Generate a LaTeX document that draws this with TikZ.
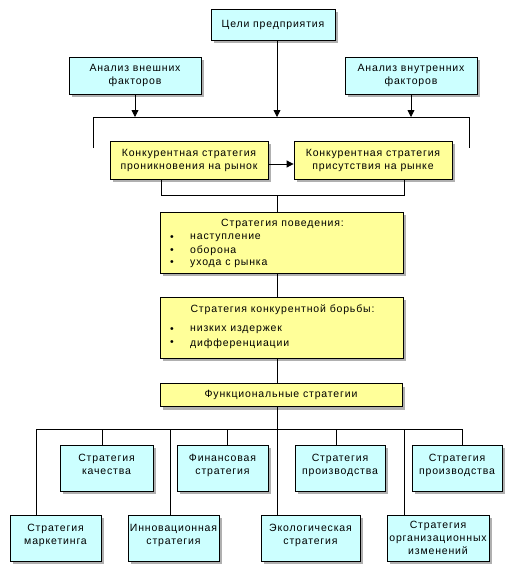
\documentclass[tikz,border=0pt]{standalone}
\usepackage{fontspec}
\setmainfont{Liberation Sans}[LetterSpace=8]
\usetikzlibrary{shadows,arrows.meta}
\definecolor{boxcyan}{HTML}{CCFFFF}
\definecolor{boxyellow}{HTML}{FFFF99}
\definecolor{shadowgray}{HTML}{B0B0B0}
\newcommand{\upshift}{\\[-6pt]\mbox{}}
\tikzset{
  basebox/.style={draw=black, line width=0.8pt, inner sep=0pt, align=center,
    font=\fontsize{10.5}{13}\selectfont,
    drop shadow={shadow xshift=3pt, shadow yshift=-3pt, fill=shadowgray, opacity=1}},
  cbox/.style={basebox, fill=boxcyan},
  ybox/.style={basebox, fill=boxyellow},
  conn/.style={line width=0.8pt, draw=black},
  arr/.style={conn, -{Triangle[width=7pt,length=7pt]}},
  txt/.style={inner sep=0pt, font=\fontsize{10.5}{13}\selectfont},
}
\begin{document}
\begin{tikzpicture}[x=1pt,y=-1pt]
\useasboundingbox (0,0) rectangle (518,573);
% top
\node[cbox, minimum width=124pt, minimum height=31pt] (goal) at (273,24.5) {Цели предприятия};
\node[cbox, minimum width=132pt, minimum height=37pt] (ext) at (135,75.5) {Анализ внешних\\факторов};
\node[cbox, minimum width=132pt, minimum height=37pt] (int) at (411,75.5) {Анализ внутренних\\факторов};
% bracket
\coordinate (bl) at (93,117);
\coordinate (br) at (469,117);
\coordinate (blb) at (93,148);
\coordinate (brb) at (469,148);
\coordinate (bext) at (135,117);
\coordinate (bint) at (411,117);
\coordinate (bgoal) at (277,117);
\draw[conn] (blb) -- (bl) -- (br) -- (brb);
\draw[arr] (ext.south) -- (bext);
\draw[arr] (int.south) -- (bint);
\draw[arr] (goal.south -| bgoal) -- (bgoal);
% yellow pair
\node[ybox, minimum width=158pt, minimum height=38pt] (pen) at (189,160) {Конкурентная стратегия\\проникновения на рынок};
\node[ybox, minimum width=158pt, minimum height=38pt] (pres) at (373,160) {Конкурентная стратегия\\присутствия на рынке};
\draw[arr] ([yshift=-4pt]pen.east) -- ([yshift=-4pt]pres.west);
\coordinate (pl) at (161,195);
\coordinate (pr) at (404,195);
\coordinate (pm) at (277,195);
\draw[conn] (pen.south -| pl) -- (pl) -- (pr) -- (pres.south -| pr);
% behaviour
\node[ybox, minimum width=243pt, minimum height=61pt] (beh) at (281.5,242.5) {};
\draw[conn] (pm) -- (beh.north -| pm);
\node[txt] (behT) at (282.5,224) {Стратегия поведения:};
\node[txt] (behB1) at (172,238) {•};
\node[txt] (behB2) at (172,251) {•};
\node[txt] (behB3) at (172,263.5) {•};
\node[txt, anchor=west] (behL1) at (190,238) {наступление};
\node[txt, anchor=west] (behL2) at (190,251) {оборона};
\node[txt, anchor=west] (behL3) at (190,263.5) {ухода с рынка};
% competition
\node[ybox, minimum width=243pt, minimum height=61pt] (comp) at (281.5,327.5) {};
\draw[conn] (beh.south -| pm) -- (comp.north -| pm);
\node[txt] (compT) at (282.5,310) {Стратегия конкурентной борьбы:};
\node[txt] (compB1) at (172,330) {•};
\node[txt] (compB2) at (172,343.5) {•};
\node[txt, anchor=west] (compL1) at (190,330) {низких издержек};
\node[txt, anchor=west] (compL2) at (190,343.5) {дифференциации};
% functional
\node[ybox, minimum width=242pt, minimum height=23pt] (func) at (281,395) {Функциональные стратегии};
\draw[conn] (comp.south -| pm) -- (func.north -| pm);
% upper row
\node[cbox, minimum width=93pt, minimum height=46pt] (q) at (106.5,468) {Стратегия\\качества\upshift};
\node[cbox, minimum width=91pt, minimum height=46pt] (fin) at (222.5,468) {Финансовая\\стратегия\upshift};
\node[cbox, minimum width=90pt, minimum height=46pt] (pr1) at (340,468) {Стратегия\\производства\upshift};
\node[cbox, minimum width=90pt, minimum height=46pt] (pr2) at (457,468) {Стратегия\\производства\upshift};
% lower row
\node[cbox, minimum width=91pt, minimum height=46pt] (mk) at (55.5,538) {Стратегия\\маркетинга\upshift};
\node[cbox, minimum width=91pt, minimum height=46pt] (inn) at (173.5,538) {Инновационная\\стратегия\upshift};
\node[cbox, minimum width=99pt, minimum height=46pt] (eco) at (310.5,538) {Экологическая\\стратегия\upshift};
\node[cbox, minimum width=102pt, minimum height=46pt] (org) at (438,538) {Стратегия\\организационных\\изменений};
% bus
\coordinate (bus0) at (36,429);
\coordinate (bus1) at (102,429);
\coordinate (bus2) at (170,429);
\coordinate (bus3) at (227,429);
\coordinate (bus4) at (277,429);
\coordinate (bus5) at (336,429);
\coordinate (bus6) at (404,429);
\coordinate (bus7) at (462,429);
\draw[conn] (bus0) -- (bus7);
\draw[conn] (func.south -| bus4) -- (eco.north -| bus4);
\draw[conn] (bus0) -- (mk.north -| bus0);
\draw[conn] (bus2) -- (inn.north -| bus2);
\draw[conn] (bus6) -- (org.north -| bus6);
\draw[conn] (bus1) -- (q.north -| bus1);
\draw[conn] (bus3) -- (fin.north -| bus3);
\draw[conn] (bus5) -- (pr1.north -| bus5);
\draw[conn] (bus7) -- (pr2.north -| bus7);
\end{tikzpicture}
\end{document}
